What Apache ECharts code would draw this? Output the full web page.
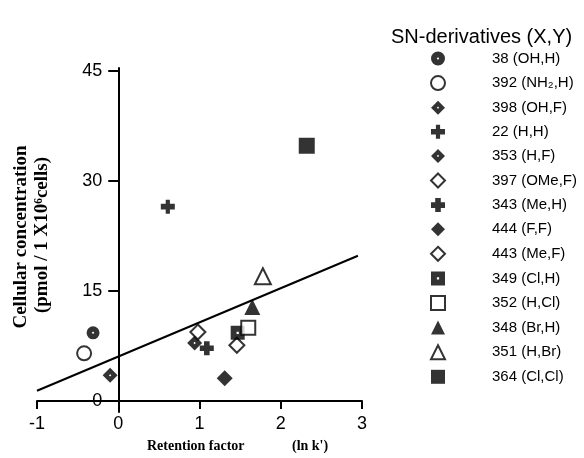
<!DOCTYPE html>
<html>
<head>
<meta charset="utf-8">
<script src="https://cdn.jsdelivr.net/npm/echarts@6/dist/echarts.min.js"></script>
<style>
  html, body { margin: 0; padding: 0; background: #fff; }
  #chart { width: 584px; height: 458px; }
</style>
</head>
<body>
<div id="chart"></div>
<script>
// SN-derivatives, ln k' vs cellular concentration
const names = [
  '38 (OH,H)', '392 (NH₂,H)', '398 (OH,F)', '22 (H,H)', '353 (H,F)',
  '397 (OMe,F)', '343 (Me,H)', '444 (F,F)', '443 (Me,F)', '349 (Cl,H)',
  '352 (H,Cl)', '348 (Br,H)', '351 (H,Br)', '364 (Cl,Cl)'
]
const xs = [-0.31, -0.42, -0.10, 0.61, 0.94, 0.98, 1.09, 1.31, 1.46, 1.47, 1.60, 1.65, 1.78, 2.32]
const ys = [9.3, 6.5, 3.5, 26.5, 7.9, 9.4, 7.2, 3.1, 7.6, 9.3, 10.0, 12.8, 17.0, 34.8]

// regression line end points
const fitX = [-1, 2.95]
const fitY = [1.4, 19.8]

const xTicks = [-1, 0, 1, 2, 3]
const yTicks = [0, 15, 30, 45]

const dotCircle = 'path://M5,0A5,5 0 1,1 5,10A5,5 0 1,1 5,0Z M5,4.2A0.8,0.8 0 1,0 5,5.8A0.8,0.8 0 1,0 5,4.2Z'
const dotDiamond = 'path://M5,0L10,5L5,10L0,5Z M5,4.2L4.2,5L5,5.8L5.8,5Z'
const dotSquare = 'path://M0,0H10V10H0Z M4.2,4.2V5.8H5.8V4.2Z'
const plus = 'path://M3,0H7V3H10V7H7V10H3V7H0V3H3Z'
const club = 'path://M3.5,0H6.5V3H10V7H6.5V10H3.5V7H0V3H3.5Z'

const filled = { color: '#000' }
const open = { color: '#fff', borderColor: '#000', borderWidth: 2 }

const styles = [
  { symbol: dotCircle, size: 13, item: filled },
  { symbol: 'circle', size: 14, item: open },
  { symbol: dotDiamond, size: 15, item: filled },
  { symbol: club, size: 14, item: filled },
  { symbol: dotDiamond, size: 15, item: filled },
  { symbol: 'diamond', size: 15, item: open },
  { symbol: plus, size: 14, item: filled },
  { symbol: 'diamond', size: 16, item: filled },
  { symbol: 'diamond', size: 15, item: open },
  { symbol: dotSquare, size: 14, item: filled },
  { symbol: 'rect', size: 14, item: open },
  { symbol: 'triangle', size: 16, item: filled },
  { symbol: 'triangle', size: 16, item: open },
  { symbol: 'rect', size: 16, item: filled }
]

const series = names.map((name, i) => ({
  name: name,
  type: 'scatter',
  data: [[xs[i], ys[i]]],
  symbol: styles[i].symbol,
  symbolSize: styles[i].size,
  itemStyle: styles[i].item,
  z: 3
}))

series.push({
  name: 'fit',
  type: 'line',
  data: fitX.map((x, i) => [x, fitY[i]]),
  symbol: 'none',
  lineStyle: { color: '#000', width: 2 },
  silent: true,
  z: 2
})

const tickFont = { color: '#000', fontSize: 18, fontFamily: 'Liberation Sans' }

const chart = echarts.init(document.getElementById('chart'), null, { renderer: 'canvas' })
chart.setOption({
  animation: false,
  backgroundColor: '#fff',
  grid: { left: 37, right: 222, top: 68, bottom: 46 },
  title: {
    text: 'SN-derivatives (X,Y)',
    left: 386,
    top: 22,
    textStyle: { color: '#000', fontSize: 20, fontWeight: 'normal', fontFamily: 'Liberation Sans' }
  },
  legend: {
    data: names,
    orient: 'vertical',
    left: 425,
    top: 46,
    itemWidth: 14,
    itemHeight: 14,
    itemGap: 9.1,
    selectedMode: false,
    textStyle: { color: '#000', fontSize: 15, fontFamily: 'Liberation Sans', padding: [0, 0, 0, 42] }
  },
  xAxis: {
    type: 'value',
    min: -1,
    max: 3,
    interval: 1,
    splitLine: { show: false },
    axisLine: { show: true, lineStyle: { color: '#000', width: 2 } },
    axisTick: { show: true, length: 8, lineStyle: { color: '#000', width: 2 }, customValues: xTicks },
    axisLabel: Object.assign({ margin: 3, customValues: xTicks }, tickFont)
  },
  yAxis: {
    type: 'value',
    min: -1.5,
    max: 45.4,
    offset: -81.25,
    splitLine: { show: false },
    axisLine: { show: true, onZero: false, lineStyle: { color: '#000', width: 2 } },
    axisTick: { show: true, length: 10, lineStyle: { color: '#000', width: 2 }, customValues: yTicks },
    axisLabel: Object.assign({ margin: 16, customValues: yTicks }, tickFont)
  },
  graphic: [
    {
      type: 'text', x: 21, y: 237, rotation: Math.PI / 2,
      style: { text: 'Cellular concentration', font: 'bold 19px "Liberation Serif"', fill: '#000', align: 'center', verticalAlign: 'middle' }
    },
    {
      type: 'text', x: 42, y: 235, rotation: Math.PI / 2,
      style: { text: '(pmol / 1 X10⁶cells)', font: 'bold 19px "Liberation Serif"', fill: '#000', align: 'center', verticalAlign: 'middle' }
    },
    {
      type: 'text', x: 147, y: 446,
      style: { text: 'Retention factor', font: 'bold 14px "Liberation Serif"', fill: '#000', align: 'left', verticalAlign: 'middle' }
    },
    {
      type: 'text', x: 292, y: 446,
      style: { text: "(ln k')", font: 'bold 14px "Liberation Serif"', fill: '#000', align: 'left', verticalAlign: 'middle' }
    }
  ],
  series: series
})
</script>
</body>
</html>
